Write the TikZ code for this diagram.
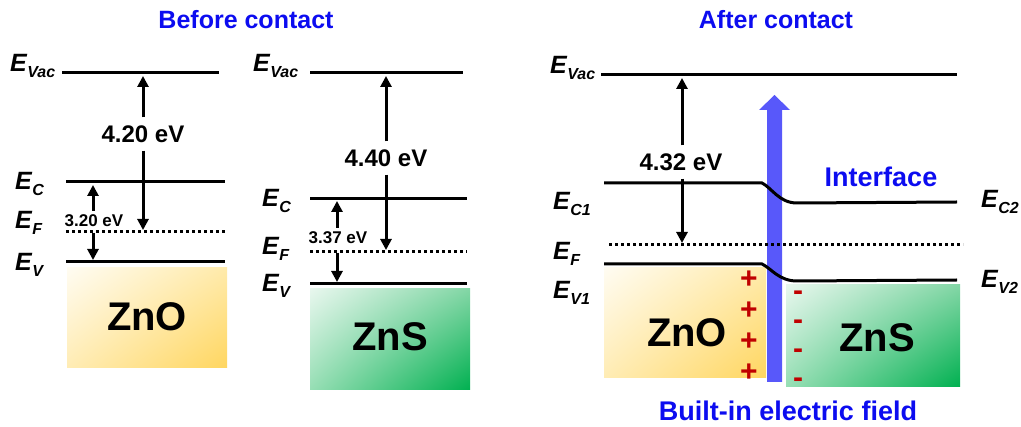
\documentclass[tikz,border=0pt]{standalone}
\usepackage{fontspec}
\setmainfont{Liberation Sans}
\usetikzlibrary{arrows.meta,shadings}
\definecolor{fieldblue}{RGB}{88,88,250}
\definecolor{txtblue}{RGB}{12,12,240}
\definecolor{chargered}{RGB}{192,0,0}
\definecolor{znoUL}{RGB}{255,252,242}
\definecolor{znoUR}{RGB}{255,234,170}
\definecolor{znoLL}{RGB}{255,236,180}
\definecolor{znoLR}{RGB}{255,214,96}
\definecolor{znsUL}{RGB}{232,247,238}
\definecolor{znsUR}{RGB}{130,214,165}
\definecolor{znsLL}{RGB}{150,222,180}
\definecolor{znsLR}{RGB}{0,176,80}
\newcommand{\Esub}[1]{E\kern0.5pt\raisebox{-6pt}{\fontsize{16}{16}\selectfont #1}}
\begin{document}
\begin{tikzpicture}[x=1pt,y=-1pt,
  lvl/.style={line width=3pt},
  fermi/.style={line width=3pt, dash pattern=on 3pt off 3pt},
  gap/.style={line width=3pt, -{Triangle[length=11pt,width=11pt]}},
  elab/.style={anchor=base west, inner sep=0pt, font=\fontsize{25}{25}\selectfont\bfseries\itshape},
  ttl/.style={font=\fontsize{25}{25}\selectfont\bfseries, text=txtblue},
  ev/.style={font=\fontsize{24}{24}\selectfont\bfseries, inner xsep=2pt, inner ysep=8pt},
  sev/.style={font=\fontsize{17}{17}\selectfont\bfseries, inner xsep=1pt, inner ysep=4pt},
  mat/.style={font=\fontsize{40}{40}\selectfont\bfseries},
  chg/.style={font=\fontsize{30}{30}\selectfont\bfseries, text=chargered, inner sep=0pt},
]
\useasboundingbox (0,0) rectangle (1021,427);

% ---------- titles ----------
\node[ttl] (tb) at (246,20) {Before contact};
\node[ttl] (ta) at (776,20) {After contact};

% ---------- boxes ----------
\shade[upper left=znoUL, upper right=znoUR, lower left=znoLL, lower right=znoLR] (67,268) rectangle (227,368);
\shade[upper left=znsUL, upper right=znsUR, lower left=znsLL, lower right=znsLR] (310,289) rectangle (470,390);
\shade[upper left=znoUL, upper right=znoUR, lower left=znoLL, lower right=znoLR] (604,268) rectangle (766,378);
\shade[upper left=znsUL, upper right=znsUR, lower left=znsLL, lower right=znsLR] (786,285) rectangle (960,387);
\node[mat] (zno1) at (147,317) {ZnO};
\node[mat] (zns1) at (390,337) {ZnS};
\node[mat] (zno2) at (687,333) {ZnO};
\node[mat] (zns2) at (877,338) {ZnS};

% ---------- built-in field arrow ----------
\fill[fieldblue] (767,382) -- (767,110) -- (759,110) -- (774.5,95) -- (790,110) -- (782,110) -- (782,382) -- cycle;

% ---------- left panel (ZnO) ----------
\coordinate (v1a) at (62,73);  \coordinate (v1b) at (219,73);
\coordinate (c1a) at (66,182); \coordinate (c1b) at (225,182);
\coordinate (f1a) at (66,232); \coordinate (f1b) at (225,232);
\coordinate (e1a) at (66,262); \coordinate (e1b) at (225,262);
\draw[lvl] (v1a) -- (v1b);
\draw[lvl] (c1a) -- (c1b);
\draw[fermi] (f1a) -- (f1b);
\draw[lvl] (e1a) -- (e1b);
\node[elab] (lv1) at (10,72) {\Esub{Vac}};
\node[elab] (lc1) at (15,190) {\Esub{C}};
\node[elab] (lf1) at (15,229) {\Esub{F}};
\node[elab] (le1) at (15,271) {\Esub{V}};
\node[ev] (t420) at (143,134) {4.20 eV};
\coordinate (a420t) at (143,76);
\coordinate (a420b) at (143,230);
\draw[gap] (t420.north) -- (a420t);
\draw[gap] (t420.south) -- (a420b);
\node[sev] (t320) at (94,221) {3.20 eV};
\coordinate (a320t) at (93,185);
\coordinate (a320m) at (93,233);
\coordinate (a320b) at (93,260);
\draw[gap] (t320.north -| a320t) -- (a320t);
\draw[gap] (a320m) -- (a320b);

% ---------- middle panel (ZnS) ----------
\coordinate (v2a) at (310,73);  \coordinate (v2b) at (463,73);
\coordinate (c2a) at (310,199); \coordinate (c2b) at (467,199);
\coordinate (f2a) at (310,252); \coordinate (f2b) at (467,252);
\coordinate (e2a) at (310,284); \coordinate (e2b) at (467,284);
\draw[lvl] (v2a) -- (v2b);
\draw[lvl] (c2a) -- (c2b);
\draw[fermi] (f2a) -- (f2b);
\draw[lvl] (e2a) -- (e2b);
\node[elab] (lv2) at (253,72) {\Esub{Vac}};
\node[elab] (lc2) at (262,207) {\Esub{C}};
\node[elab] (lf2) at (262,255) {\Esub{F}};
\node[elab] (le2) at (262,292) {\Esub{V}};
\node[ev] (t440) at (386,158) {4.40 eV};
\coordinate (a440t) at (386,76);
\coordinate (a440b) at (386,250);
\draw[gap] (t440.north) -- (a440t);
\draw[gap] (t440.south) -- (a440b);
\node[sev] (t337) at (338,238) {3.37 eV};
\coordinate (a337t) at (337,201);
\coordinate (a337m) at (337,253);
\coordinate (a337b) at (337,282);
\draw[gap] (t337.north -| a337t) -- (a337t);
\draw[gap] (a337m) -- (a337b);

% ---------- right panel (after contact) ----------
\coordinate (v3a) at (601,75);  \coordinate (v3b) at (957,75);
\coordinate (c3a) at (604,183); \coordinate (c3k) at (762,183);
\coordinate (c3j) at (797,203); \coordinate (c3b) at (957,202);
\coordinate (f3a) at (609,245); \coordinate (f3b) at (963,245);
\coordinate (e3a) at (604,264); \coordinate (e3k) at (762,264);
\coordinate (e3j) at (797,281); \coordinate (e3b) at (957,280);
\draw[lvl] (v3a) -- (v3b);
\draw[lvl] (c3a) -- (c3k) .. controls (772,188) and (779,203) .. (c3j) -- (c3b);
\draw[fermi] (f3a) -- (f3b);
\draw[lvl] (e3a) -- (e3k) .. controls (772,269) and (779,281) .. (e3j) -- (e3b);
\node[elab] (lv3) at (550,74) {\Esub{Vac}};
\node[elab] (lc3) at (553,210) {\Esub{C1}};
\node[elab] (lf3) at (553,260) {\Esub{F}};
\node[elab] (le3) at (553,299) {\Esub{V1}};
\node[elab] (lc4) at (981,208) {\Esub{C2}};
\node[elab] (le4) at (981,288) {\Esub{V2}};
\node[ev] (t432) at (681,162) {4.32 eV};
\coordinate (a432t) at (682,78);
\coordinate (a432b) at (682,243);
\draw[gap] (t432.north -| a432t) -- (a432t);
\draw[gap] (t432.south -| a432b) -- (a432b);

% charges
\node[chg] (p1) at (749,280) {+};
\node[chg] (p2) at (749,311) {+};
\node[chg] (p3) at (749,342) {+};
\node[chg] (p4) at (749,373) {+};
\node[chg] (m1) at (798,296) {-};
\node[chg] (m2) at (798,325) {-};
\node[chg] (m3) at (798,354) {-};
\node[chg] (m4) at (798,383) {-};

\node[ttl, font=\fontsize{27}{27}\selectfont\bfseries] (intf) at (881,177) {Interface};
\node[ttl, font=\fontsize{27}{27}\selectfont\bfseries] (bief) at (788,411) {Built-in electric field};
\end{tikzpicture}
\end{document}
